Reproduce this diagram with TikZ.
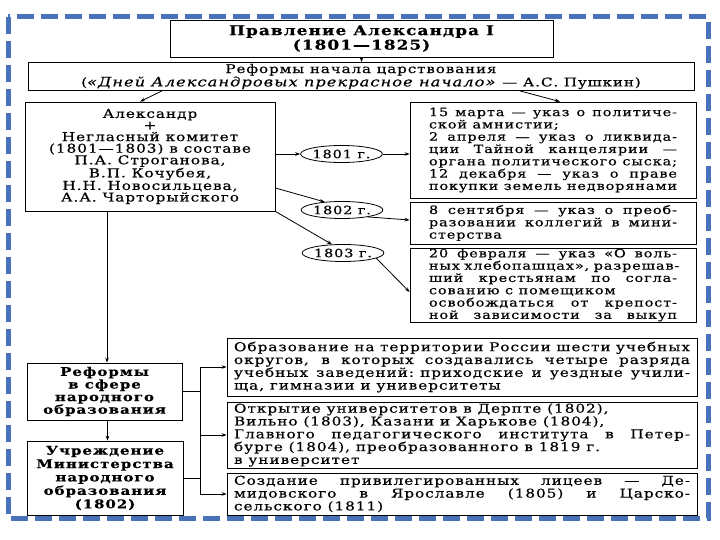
\documentclass[tikz,border=0pt]{standalone}
\usepackage{fontspec}
\setmainfont{DejaVu Serif}[FakeStretch=1.25,LetterSpace=8,FakeBold=0.5]
\usetikzlibrary{arrows.meta,shapes.geometric}
\newlength\jw
\newcommand\jl[1]{\leavevmode\hbox to \jw{#1}}
\definecolor{bord}{RGB}{72,114,185}
\tikzset{
  bx/.style={draw, line width=0.8pt, inner sep=0pt, align=left},
  bc/.style={draw, line width=0.8pt, inner sep=0pt, align=center},
  jb/.style={text width=#1, execute at begin node={\setlength\jw{#1}\spaceskip=\fontdimen2\font plus 5em minus 0.1em\relax}},
  arr/.style={-{Stealth[length=5pt,width=3.6pt]}, line width=0.8pt},
  ln/.style={line width=0.8pt},
  yr/.style={draw, ellipse, line width=0.8pt, minimum width=77pt, minimum height=17pt, inner sep=0pt},
  txt/.style={font=\fontsize{11.5}{12.3}\selectfont},
  txe/.style={font=\fontsize{12.2}{12.8}\selectfont},
}
\begin{document}
\begin{tikzpicture}[x=1pt,y=-1pt]
\useasboundingbox (0,0) rectangle (720,540);
\fill[white] (0,0) rectangle (720,540);
% top
\node[bc, minimum width=383pt, minimum height=37pt, font=\fontsize{13.5}{14.5}\selectfont\bfseries] (title) at (361.5,38.5) {Правление Александра I\\(1801—1825)};
\node[bc, minimum width=666pt, minimum height=28pt, font=\fontsize{12}{12}\selectfont] (reform) at (361,76.5) {Реформы начала царствования\\(\textit{\fontsize{13}{12}\selectfont«Дней Александровых прекрасное начало»} — А.С. Пушкин)};
\node[bc, minimum width=250pt, minimum height=109pt, font=\fontsize{12.2}{11.6}\selectfont] (alex) at (150,156.5) {Александр\\+\\Негласный комитет\\(1801—1803) в составе\\П.А. Строганова,\\В.П. Кочубея,\\Н.Н. Новосильцева,\\А.А. Чарторыйского};
% right boxes
\node[bx, txt, minimum width=286pt, minimum height=96pt, jb=248pt] (b1) at (553,150) {\jl{15 марта — указ о политиче-}\\ской амнистии;\\\jl{2 апреля — указ о ликвида-}\\\jl{ции Тайной канцелярии —}\\\jl{органа политического сыска;}\\\jl{12 декабря — указ о праве}\\\jl{покупки земель недворянами}};
\node[bx, txt, minimum width=286pt, minimum height=42pt, jb=248pt] (b2) at (553,223) {\jl{8 сентября — указ о преоб-}\\\jl{разовании коллегий в мини-}\\стерства};
\node[bx, txt, minimum width=286pt, minimum height=74pt, jb=248pt] (b3) at (553,285) {\jl{20 февраля — указ «О воль-}\\\jl{ных хлебопашцах», разрешав-}\\\jl{ший крестьянам по согла-}\\сованию с помещиком\\\jl{освобождаться от крепост-}\\\jl{ной зависимости за выкуп}};
% years
\node[yr, font=\fontsize{11.5}{12}\selectfont] (e1) at (341.5,154) {1801 г.};
\node[yr, font=\fontsize{11.5}{12}\selectfont] (e2) at (342,210) {1802 г.};
\node[yr, font=\fontsize{11.5}{12}\selectfont] (e3) at (343,253) {1803 г.};
% bottom left
\node[bc, minimum width=155pt, minimum height=57pt, font=\fontsize{12}{12.6}\selectfont\bfseries] (ref) at (104.5,391.5) {Реформы\\в сфере\\народного\\образования};
\node[bc, minimum width=156pt, minimum height=74pt, font=\fontsize{12}{13.4}\selectfont\bfseries] (uch) at (105,478) {Учреждение\\Министерства\\народного\\образования\\(1802)};
% edu boxes
\node[bx, txe, minimum width=470pt, minimum height=58pt, jb=456pt] (ed1) at (462,367) {\jl{Образование на территории России шести учебных}\\\jl{округов, в которых создавались четыре разряда}\\\jl{учебных заведений: приходские и уездные учили-}\\ща, гимназии и университеты};
\node[bx, txe, minimum width=470pt, minimum height=66pt, jb=456pt] (ed2) at (462,435) {Открытие университетов в Дерпте (1802),\\Вильно (1803), Казани и Харькове (1804),\\\jl{Главного педагогического института в Петер-}\\бурге (1804), преобразованного в 1819 г.\\в университет};
\node[bx, txe, minimum width=470pt, minimum height=42pt, jb=456pt] (ed3) at (462,494) {\jl{Создание привилегированных лицеев — Де-}\\\jl{мидовского в Ярославле (1805) и Царско-}\\сельского (1811)};
% connectors
\draw[arr] (title.south) -- (title.south |- reform.north);
\draw[arr] ([xshift=-199pt]reform.south) -- ([xshift=-10pt]alex.north);
\draw[arr] ([xshift=159pt]reform.south) -- ([xshift=7pt]b1.north);
\draw[arr] (alex.east |- e1) -- (e1.west);
\draw[arr] (e1.east) -- (b1.west |- e1);
\draw[arr] ([yshift=-31.5pt]alex.east) -- (e2.155);
\draw[arr] (e2.-15) -- ([yshift=3pt]b2.west);
\draw[arr] (alex.south east) -- (e3.142);
\draw[arr] (e3.-9) -- ([yshift=-7pt]b3.west);
\draw[arr] ([xshift=-43pt]alex.south) -- ([xshift=-43pt]alex.south |- ref.north);
\draw[arr] ([xshift=3pt]ref.south) -- ([xshift=3pt]ref.south |- uch.north);
\draw[ln] (ref.east) -- ([xshift=18pt]ref.east);
\draw[ln] (uch.east) -- ([xshift=18pt]ref.east |- uch.east);
\draw[ln] ([xshift=18pt]ref.east |- ed1.west) -- ([xshift=18pt]ref.east |- ed3.west);
\draw[arr] ([xshift=18pt]ref.east |- ed1.west) -- (ed1.west);
\draw[arr] ([xshift=18pt]ref.east |- ed2.west) -- (ed2.west);
\draw[arr] ([xshift=18pt]ref.east |- ed3.west) -- (ed3.west);
% border
\draw[bord, line width=5pt, dash pattern=on 17pt off 7pt] (8,17) rectangle (708,518);
\end{tikzpicture}
\end{document}
